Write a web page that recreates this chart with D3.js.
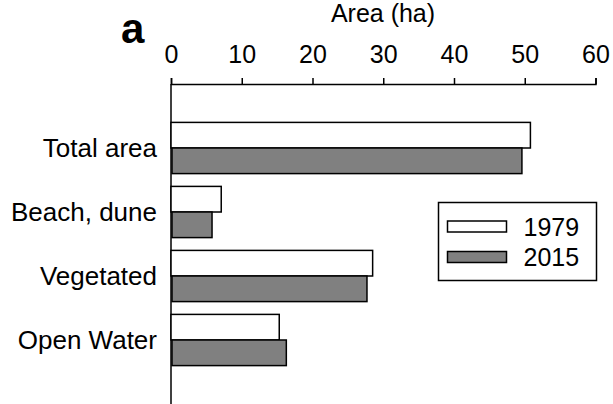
<!DOCTYPE html>
<html>
<head>
<meta charset="utf-8">
<script src="https://cdn.jsdelivr.net/npm/d3@7"></script>
<style>
  body { margin: 0; background: #fff; }
  text { font-family: "Liberation Sans", Arial, sans-serif; fill: #000; }
</style>
</head>
<body>
<svg id="chart" width="613" height="404"></svg>
<script>
// data
const categories = ["Total area", "Beach, dune", "Vegetated", "Open Water"];
const years = ["1979", "2015"];
const area1979 = [50.8, 7.1, 28.5, 15.3];
const area2015 = [49.6, 5.8, 27.7, 16.3];
const xTicks = [0, 10, 20, 30, 40, 50, 60];

const svg = d3.select("#chart");
const width = Number(svg.attr("width"));
const height = Number(svg.attr("height"));

const x = d3.scaleLinear().domain([0, 60]).range([171, 595.5]);
const y = d3
  .scaleBand()
  .domain(categories)
  .range([84, 404])
  .paddingInner(0.2)
  .paddingOuter(0.6);
const sub = d3.scaleBand().domain(years).range([0, y.bandwidth()]);

const fills = { "1979": "#ffffff", "2015": "#808080" };

const rows = categories.map((c, i) => ({
  cat: c,
  vals: [
    { year: "1979", v: area1979[i] },
    { year: "2015", v: area2015[i] },
  ],
}));

// top axis
const xAxis = d3
  .axisTop(x)
  .tickValues(xTicks)
  .tickSize(6)
  .tickPadding(15)
  .tickFormat((d) => d);
const axisG = svg
  .append("g")
  .attr("transform", `translate(0, ${y.range()[0]})`)
  .call(xAxis);
axisG.select(".domain").attr("stroke", "#000").attr("stroke-width", 1.5);
axisG.selectAll(".tick line").attr("stroke", "#000").attr("stroke-width", 1.5);
axisG
  .selectAll(".tick text")
  .style("font-size", "25px")
  .style("font-family", "'Liberation Sans', Arial, sans-serif")
  .attr("fill", "#000");

// left axis line
svg
  .append("line")
  .attr("x1", x(0))
  .attr("x2", x(0))
  .attr("y1", y.range()[0])
  .attr("y2", height)
  .attr("stroke", "#000")
  .attr("stroke-width", 1.5);

svg
  .append("text")
  .attr("x", 383)
  .attr("y", 22)
  .attr("text-anchor", "middle")
  .style("font-size", "25px")
  .text("Area (ha)");

svg
  .append("text")
  .attr("x", 121)
  .attr("y", 43)
  .style("font-size", "42px")
  .style("font-weight", "bold")
  .text("a");

// bars
const groups = svg
  .selectAll("g.group")
  .data(rows)
  .join("g")
  .attr("class", "group")
  .attr("transform", (d) => `translate(0, ${y(d.cat)})`);

groups
  .selectAll("rect")
  .data((d) => d.vals)
  .join("rect")
  .attr("x", (d) => x(0) + (d.year === "2015" ? 1 : 0))
  .attr("y", (d) => sub(d.year))
  .attr("width", (d) => x(d.v) - x(0) - (d.year === "2015" ? 1 : 0))
  .attr("height", sub.bandwidth())
  .attr("fill", (d) => fills[d.year])
  .attr("stroke", "#000")
  .attr("stroke-width", 1.5);

// category labels
svg
  .selectAll("text.cat")
  .data(categories)
  .join("text")
  .attr("class", "cat")
  .attr("x", 157)
  .attr("y", (d) => y(d) + y.bandwidth() / 2)
  .attr("text-anchor", "end")
  .attr("dominant-baseline", "central")
  .style("font-size", "26px")
  .text((d) => d);

// legend
const legend = svg.append("g").attr("transform", "translate(438.5, 202.5)");
legend
  .append("rect")
  .attr("width", 158)
  .attr("height", 78)
  .attr("fill", "#fff")
  .attr("stroke", "#000")
  .attr("stroke-width", 1.5);

const items = legend
  .selectAll("g.item")
  .data(years)
  .join("g")
  .attr("class", "item")
  .attr("transform", (d, i) => `translate(9, ${24 + i * 30.5})`);
items
  .append("rect")
  .attr("x", 0)
  .attr("y", -5.5)
  .attr("width", 59)
  .attr("height", 11)
  .attr("fill", (d) => fills[d])
  .attr("stroke", "#000")
  .attr("stroke-width", 1.5);
items
  .append("text")
  .attr("x", 76)
  .attr("y", 0)
  .attr("dominant-baseline", "central")
  .style("font-size", "25px")
  .text((d) => d);
</script>
</body>
</html>
